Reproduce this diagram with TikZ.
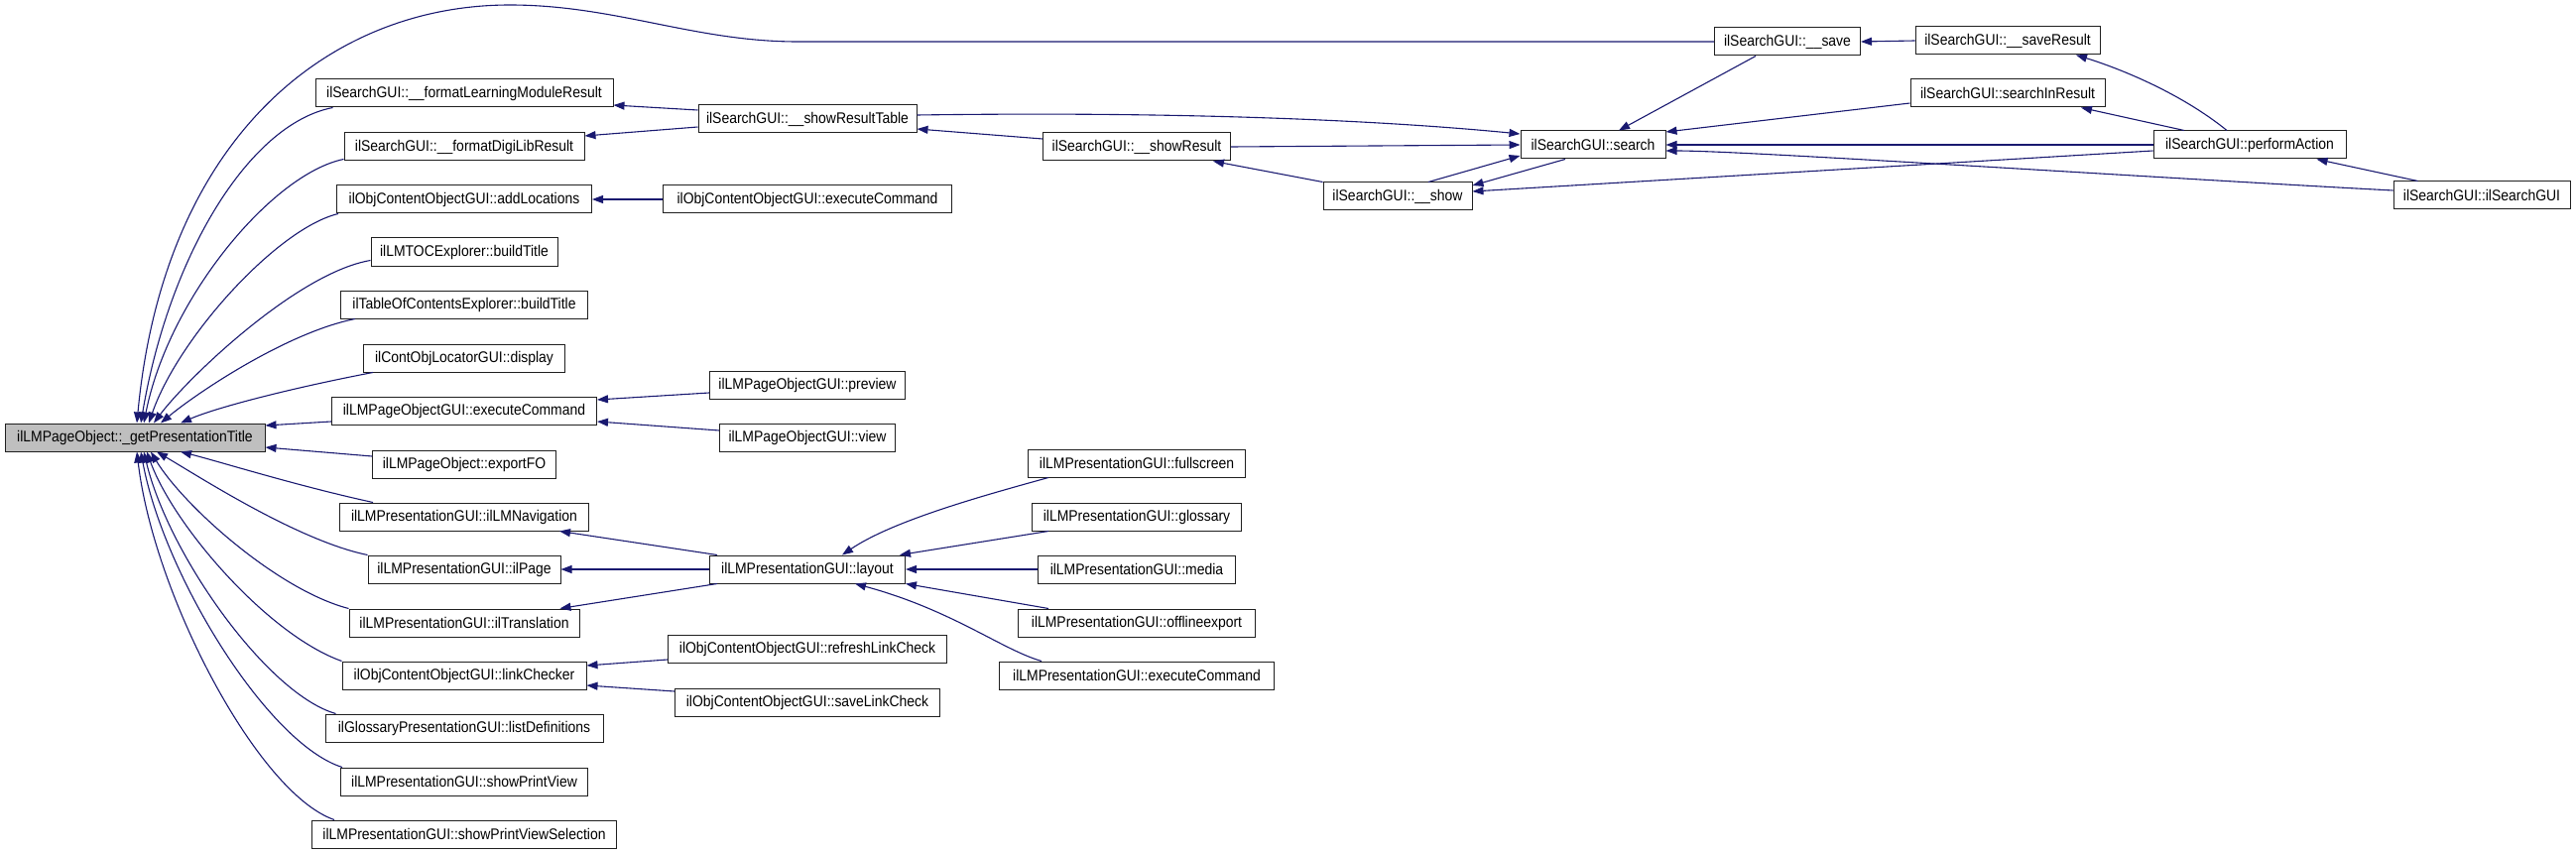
\documentclass[tikz,border=0pt]{standalone}
\usepackage{fontspec}
\setmainfont{Liberation Sans}[FakeStretch=0.9]
\usetikzlibrary{arrows.meta,calc}
\definecolor{edgeblue}{HTML}{191970}
\definecolor{maingray}{HTML}{BFBFBF}
\definecolor{boxline}{HTML}{202020}
\tikzset{
  box/.style={draw=boxline, line width=1pt, fill=white, minimum height=28pt, inner sep=0pt,
    font=\fontsize{15.5}{17}\selectfont, anchor=center},
  edge/.style={draw=edgeblue, line width=1.1pt, -{Triangle[length=11pt,width=8pt]}},
}
\begin{document}
\begin{tikzpicture}[x=1pt,y=-1pt]
\useasboundingbox (0,0) rectangle (2597,861);
% main
\node[box, fill=maingray, minimum width=262pt] (main) at (136,441) {ilLMPageObject::\_getPresentationTitle};
% column 1
\node[box, minimum width=300pt] (fLMR) at (468,94) {ilSearchGUI::\_\_formatLearningModuleResult};
\node[box, minimum width=242pt] (fDLR) at (468,148) {ilSearchGUI::\_\_formatDigiLibResult};
\node[box, minimum width=257pt] (addLoc) at (468,201) {ilObjContentObjectGUI::addLocations};
\node[box, minimum width=188pt] (tocBT) at (468,254) {ilLMTOCExplorer::buildTitle};
\node[box, minimum width=249pt] (tableBT) at (468,307) {ilTableOfContentsExplorer::buildTitle};
\node[box, minimum width=203pt] (display) at (468,361) {ilContObjLocatorGUI::display};
\node[box, minimum width=267pt] (lmpoExec) at (468,414) {ilLMPageObjectGUI::executeCommand};
\node[box, minimum width=185pt] (exportFO) at (468,468) {ilLMPageObject::exportFO};
\node[box, minimum width=251pt] (lmNav) at (468,521) {ilLMPresentationGUI::ilLMNavigation};
\node[box, minimum width=194pt] (ilPage) at (468,574) {ilLMPresentationGUI::ilPage};
\node[box, minimum width=232pt] (ilTrans) at (468,628) {ilLMPresentationGUI::ilTranslation};
\node[box, minimum width=246pt] (linkChecker) at (468,681) {ilObjContentObjectGUI::linkChecker};
\node[box, minimum width=280pt] (listDef) at (468,734) {ilGlossaryPresentationGUI::listDefinitions};
\node[box, minimum width=249pt] (showPV) at (468,788) {ilLMPresentationGUI::showPrintView};
\node[box, minimum width=307pt] (showPVS) at (468,841) {ilLMPresentationGUI::showPrintViewSelection};
% column 2
\node[box, minimum width=220pt] (showRT) at (814,120) {ilSearchGUI::\_\_showResultTable};
\node[box, minimum width=291pt] (ocoExec) at (814,201) {ilObjContentObjectGUI::executeCommand};
\node[box, minimum width=197pt] (preview) at (814,388) {ilLMPageObjectGUI::preview};
\node[box, minimum width=177pt] (view) at (814,441) {ilLMPageObjectGUI::view};
\node[box, minimum width=197pt] (layout) at (814,574) {ilLMPresentationGUI::layout};
\node[box, minimum width=281pt] (refresh) at (814,654) {ilObjContentObjectGUI::refreshLinkCheck};
\node[box, minimum width=267pt] (saveLC) at (814,708) {ilObjContentObjectGUI::saveLinkCheck};
% column 3
\node[box, minimum width=189pt] (showRes) at (1146,148) {ilSearchGUI::\_\_showResult};
\node[box, minimum width=219pt] (fullscreen) at (1146,467) {ilLMPresentationGUI::fullscreen};
\node[box, minimum width=211pt] (glossary) at (1146,521) {ilLMPresentationGUI::glossary};
\node[box, minimum width=199pt] (media) at (1146,574) {ilLMPresentationGUI::media};
\node[box, minimum width=239pt] (offline) at (1146,628) {ilLMPresentationGUI::offlineexport};
\node[box, minimum width=277pt] (lmpExec) at (1146,681) {ilLMPresentationGUI::executeCommand};
% right part
\node[box, minimum width=150pt] (show) at (1409,198) {ilSearchGUI::\_\_show};
\node[box, minimum width=146pt] (search) at (1606,146) {ilSearchGUI::search};
\node[box, minimum width=147pt] (save) at (1802,42) {ilSearchGUI::\_\_save};
\node[box, minimum width=186pt] (saveRes) at (2024,41) {ilSearchGUI::\_\_saveResult};
\node[box, minimum width=196pt] (searchIn) at (2024,94) {ilSearchGUI::searchInResult};
\node[box, minimum width=194pt] (perform) at (2268,146) {ilSearchGUI::performAction};
\node[box, minimum width=178pt] (ilSG) at (2502,197) {ilSearchGUI::ilSearchGUI};

% ---- fan into main (top)
\draw[edge] (save.west) -- (804,42) .. controls (700,42) and (620,5) .. (514,5)
  .. controls (330,5) and (165,140) .. ($(main.north)+(2,0)$);
\draw[edge] ($(fLMR.south west)+(18,0)$) .. controls (250,125) and (170,260) .. ($(main.north)+(6,0)$);
\draw[edge] ($(fDLR.south west)+(0,-2)$) .. controls (275,175) and (170,300) .. ($(main.north)+(9,0)$);
\draw[edge] ($(addLoc.south west)+(2,0)$) .. controls (280,230) and (180,340) .. ($(main.north)+(14,0)$);
\draw[edge] ($(tocBT.south west)+(0,-6)$) .. controls (300,275) and (190,380) .. ($(main.north)+(19,0)$);
\draw[edge] ($(tableBT.south west)+(15,0)$) .. controls (290,335) and (200,395) .. ($(main.north)+(26,0)$);
\draw[edge] ($(display.south west)+(10,0)$) .. controls (300,390) and (220,410) .. ($(main.north)+(46,0)$);
% right side of main
\draw[edge] ($(lmpoExec.west)+(0,11)$) -- ($(main.east)+(0,-12)$);
\draw[edge] ($(exportFO.west)+(0,-8)$) -- ($(main.east)+(0,10)$);
% fan into main (bottom)
\draw[edge] ($(lmNav.north west)+(34,0)$) .. controls (300,490) and (220,465) .. ($(main.south)+(46,0)$);
\draw[edge] (ilPage.north west) .. controls (300,545) and (200,480) .. ($(main.south)+(22,0)$);
\draw[edge] (ilTrans.north west) .. controls (280,595) and (185,510) .. ($(main.south)+(16,0)$);
\draw[edge] (linkChecker.north west) .. controls (270,640) and (175,530) .. ($(main.south)+(12,0)$);
\draw[edge] ($(listDef.north west)+(11,0)$) .. controls (270,700) and (170,560) .. ($(main.south)+(9,0)$);
\draw[edge] ($(showPV.north west)+(2,0)$) .. controls (270,750) and (165,580) .. ($(main.south)+(6,0)$);
\draw[edge] ($(showPVS.north west)+(23,0)$) .. controls (260,800) and (155,600) .. ($(main.south)+(2,0)$);

% ---- column 2 -> column 1
\draw[edge] ($(showRT.west)+(0,-9)$) -- ($(fLMR.east)+(0,12)$);
\draw[edge] ($(showRT.west)+(0,8)$) -- ($(fDLR.east)+(0,-11)$);
\draw[edge] (ocoExec.west) -- (addLoc.east);
\draw[edge] ($(preview.west)+(0,8)$) -- ($(lmpoExec.east)+(0,-11)$);
\draw[edge] ($(view.west)+(0,-7)$) -- ($(lmpoExec.east)+(0,11)$);
\draw[edge] ($(layout.north west)+(8,0)$) -- ($(lmNav.south east)+(-30,0)$);
\draw[edge] (layout.west) -- (ilPage.east);
\draw[edge] ($(layout.south west)+(8,0)$) -- ($(ilTrans.north east)+(-20,0)$);
\draw[edge] ($(refresh.west)+(0,11)$) -- ($(linkChecker.east)+(0,-10)$);
\draw[edge] ($(saveLC.west)+(0,-11)$) -- ($(linkChecker.east)+(0,10)$);

% ---- column 3 -> layout
\draw[edge] ($(fullscreen.south west)+(21,0)$) .. controls (990,500) and (900,525) .. ($(layout.north)+(35,0)$);
\draw[edge] ($(glossary.south west)+(17,0)$) -- ($(layout.north east)+(-6,0)$);
\draw[edge] (media.west) -- (layout.east);
\draw[edge] ($(offline.north west)+(31,0)$) -- (layout.south east);
\draw[edge] ($(lmpExec.north west)+(43,0)$) .. controls (1010,655) and (960,615) .. ($(layout.south)+(48,0)$);

% ---- search cluster
\draw[edge] ($(showRes.west)+(0,-8)$) -- ($(showRT.east)+(0,10)$);
\draw[edge] ($(showRT.east)+(0,-4)$) .. controls (1200,112) and (1400,122) .. ($(search.west)+(0,-11)$);
\draw[edge] (showRes.east) -- (search.west);
\draw[edge] (show.north west) -- ($(showRes.south east)+(-18,0)$);
\draw[edge] ($(show.north)+(31,0)$) -- ($(search.west)+(0,11)$);
\draw[edge] ($(search.south)+(-28,0)$) -- ($(show.east)+(0,-11)$);
\draw[edge] ($(perform.west)+(0,6)$) -- ($(show.east)+(0,-5)$);
\draw[edge] ($(save.south)+(-32,0)$) -- ($(search.north)+(26,0)$);
\draw[edge] (saveRes.west) -- (save.east);
\draw[edge] ($(perform.north)+(-23,0)$) .. controls (2200,95) and (2140,70) .. ($(saveRes.south)+(69,0)$);
\draw[edge] ($(perform.north)+(-66,0)$) -- ($(searchIn.south)+(74,0)$);
\draw[edge] ($(searchIn.west)+(0,10)$) -- ($(search.east)+(0,-13)$);
\draw[edge] (perform.west) -- (search.east);
\draw[edge] ($(ilSG.west)+(0,-5)$) .. controls (2150,178) and (1760,152) .. ($(search.east)+(0,6)$);
\draw[edge] ($(ilSG.north west)+(25,0)$) -- ($(perform.south east)+(-30,0)$);
\end{tikzpicture}
\end{document}
